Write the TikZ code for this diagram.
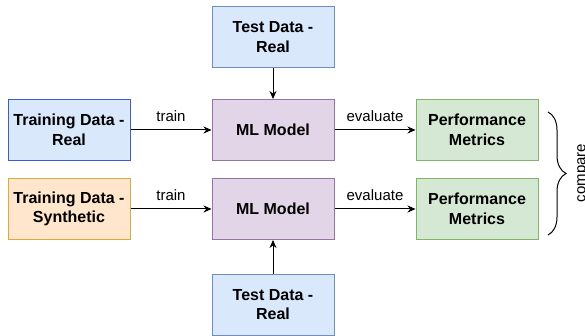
\documentclass[tikz,border=0pt]{standalone}
\usepackage{fontspec}
\setmainfont{Liberation Sans}
\usetikzlibrary{arrows.meta,decorations.pathreplacing}
\definecolor{realfill}{HTML}{DAE8FC}
\definecolor{realline}{HTML}{6C8EBF}
\definecolor{trainline}{HTML}{3B5BDB}
\definecolor{synthfill}{HTML}{FFE6CC}
\definecolor{synthline}{HTML}{E0AA3A}
\definecolor{modelfill}{HTML}{E1D5E7}
\definecolor{modelline}{HTML}{9673A6}
\definecolor{metricfill}{HTML}{D5E8D4}
\definecolor{metricline}{HTML}{82B366}
\tikzset{
	block/.style={draw, line width=1pt, minimum width=122pt, minimum height=61pt, inner sep=0pt, align=center, font=\fontsize{16}{19.5}\selectfont\bfseries},
	flow/.style={-{Stealth[length=8pt,width=7pt]}, line width=1pt},
	flowlabel/.style={font=\fontsize{15}{18}\selectfont, inner sep=0pt}
}

\begin{document}
\begin{tikzpicture}[x=1pt, y=-1pt]
			%%%%% START %%%%%
			
			\useasboundingbox (0, 0) rectangle (585, 336);
			
			\node[block, fill=realfill, draw=trainline] (trainreal) at (69, 130) {Training Data -\\Real};
			\node[block, fill=synthfill, draw=synthline] (trainsynth) at (69, 209) {Training Data -\\Synthetic};
			
			\node[block, fill=modelfill, draw=modelline] (mlreal) at (273, 130) {ML Model};
			\node[block, fill=modelfill, draw=modelline] (mlsynth) at (273, 209) {ML Model};
			
			\node[block, fill=realfill, draw=realline] (testtop) at (273, 37) {Test Data -\\Real};
			\node[block, fill=realfill, draw=realline] (testbot) at (273, 304.5) {Test Data -\\Real};
			
			\node[block, fill=metricfill, draw=metricline] (perfreal) at (477, 130) {Performance\\Metrics};
			\node[block, fill=metricfill, draw=metricline] (perfsynth) at (477, 209) {Performance\\Metrics};
			
			\draw[flow] (trainreal) -- node[flowlabel, above=8pt] {train} (mlreal);
			\draw[flow] (trainsynth) -- node[flowlabel, above=8pt] {train} (mlsynth);
			\draw[flow] (mlreal) -- node[flowlabel, above=8pt] {evaluate} (perfreal);
			\draw[flow] (mlsynth) -- node[flowlabel, above=8pt] {evaluate} (perfsynth);
			\draw[flow] (testtop) -- (mlreal);
			\draw[flow] (testbot) -- (mlsynth);
			
			\coordinate (bracetop) at (548, 112);
			\coordinate (bracebot) at (548, 235);
			\draw[line width=1pt, decorate, decoration={brace, amplitude=18pt}] (bracetop) -- (bracebot);
			\node[flowlabel, rotate=90, anchor=north] (comparelbl) at (577, 173) {compare};
			
			%%%%% END %%%%%
\end{tikzpicture}
\end{document}
